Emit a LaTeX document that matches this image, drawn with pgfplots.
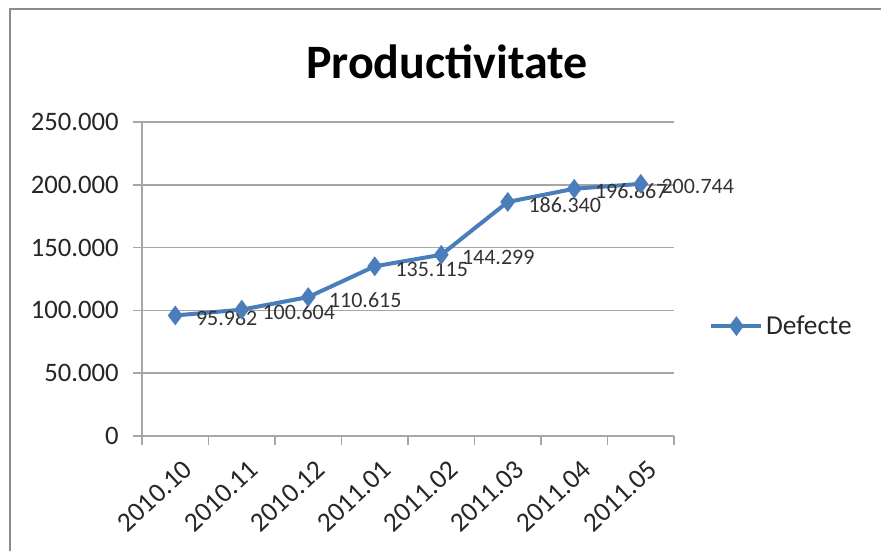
\documentclass[border=0pt]{standalone}
\usepackage{fontspec}
\setmainfont{Carlito}
\usepackage{pgfplots}
\pgfplotsset{compat=1.18}
\definecolor{serblue}{HTML}{4A7EBB}
\definecolor{gridgray}{HTML}{A6A6A6}
\definecolor{framegray}{HTML}{8C8C8C}
\begin{document}
\begin{tikzpicture}[x=1pt,y=1pt]
\useasboundingbox (0,0) rectangle (660.75,413.25);
\draw[framegray, line width=2.2pt] (7.5,0) -- (7.5,406.5) -- (660.75,406.5);
\node[font=\fontsize{36}{40}\selectfont\bfseries] at (335.25,366.75) {Productivitate};
\begin{axis}[
  at={(106.5pt,86.25pt)}, anchor=south west,
  scale only axis, width=399pt, height=235.5pt,
  xmin=-0.5, xmax=7.5, ymin=0, ymax=250000,
  axis lines*=left,
  axis line style={gridgray, line width=1.3pt},
  ytick={0,50000,100000,150000,200000,250000},
  xtick={0,...,7},
  xticklabels={2010.10,2010.11,2010.12,2011.01,2011.02,2011.03,2011.04,2011.05},
  minor xtick={-0.5,0.5,...,7.5},
  major x tick style={draw=none},
  minor tick length=7pt,
  major tick length=7pt,
  tick align=outside,
  tick style={gridgray, line width=1.3pt},
  ymajorgrids, grid style={gridgray, line width=1.3pt},
  /pgf/number format/.cd, 1000 sep={.}, fixed, precision=0, assume math mode=true,
  /pgfplots/.cd,
  yticklabel style={font=\fontsize{20}{22}\selectfont, text=black!85, xshift=-7pt},
  xticklabel style={font=\fontsize{20.5}{23}\selectfont, text=black!85, rotate=43, anchor=north east, xshift=0pt, yshift=-7pt},
  scaled y ticks=false,
  nodes near coords,
  every node near coord/.append style={anchor=west, xshift=12pt, yshift=-2pt, font=\fontsize{16.5}{18}\selectfont, text=black!80},
  legend style={at={(1.066,0.35)}, anchor=west, draw=none, fill=none, font=\fontsize{20.5}{22}\selectfont, text=black!85, inner sep=0pt},
  legend image code/.code={\draw[mark repeat=2,mark phase=2] plot coordinates {(0cm,0cm) (0.66cm,0cm) (1.32cm,0cm)};},
  clip=false,
]
\addplot[serblue, line width=3pt, mark=diamond*, mark size=7pt, mark options={fill=serblue, line width=0.5pt}]
  coordinates {(0,95982) (1,100604) (2,110615) (3,135115) (4,144299) (5,186340) (6,196867) (7,200744)};
\addlegendentry{Defecte}
\end{axis}
\end{tikzpicture}
\end{document}
